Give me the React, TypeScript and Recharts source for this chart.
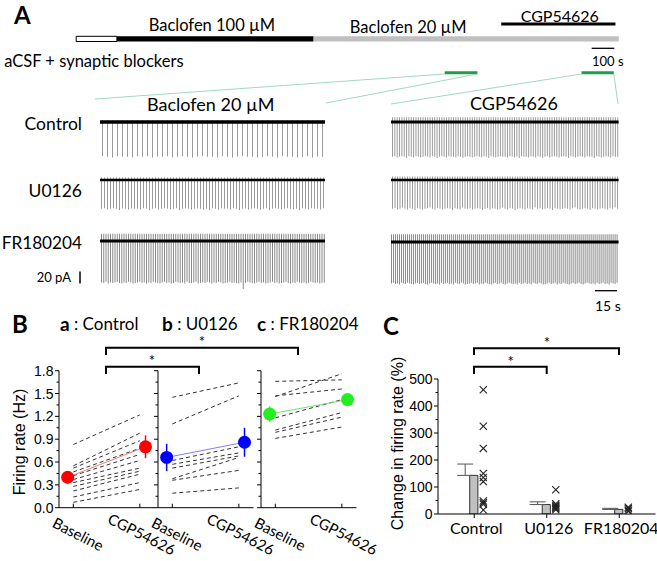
import React from 'react';
import {
  ComposedChart, BarChart, Bar, Line, Scatter, XAxis, YAxis,
  ReferenceArea, ReferenceLine, ErrorBar,
} from 'recharts';

const NUM_FONT = '"Liberation Sans", Arial, sans-serif';
const TXT_FONT = 'Lato, "Open Sans", sans-serif';

// ---------- Panel A: protocol timeline (seconds) ----------
const protocolStarts = [0, 180, 1050];
const protocolEnds = [180, 1050, 2400];
const protocolFills = ['#ffffff', '#000000', '#c0c0c0'];
const cgpPeriod = [1880, 2385];
const recordWindowStarts = [1630, 2235];
const recordWindowEnds = [1775, 2378];
const timeScaleBar = [2280, 2380];
const TOTAL_S = 2400;

// ---------- Panel A: spike amplitudes (pA, downward) ----------
const ctrlBacAmp = [57, 58, 59, 57, 58, 58, 59, 57, 58, 57, 59, 58, 58, 57, 59, 58, 57, 58, 59, 58, 57, 58, 58, 59, 57, 58, 59, 58, 57, 58, 58, 59, 58, 57, 58, 59, 57, 58, 58, 59, 58, 57, 59, 58, 58];
const uBacAmp = [48, 47, 49, 48, 47, 48, 50, 47, 48, 49, 47, 48, 48, 49, 47, 48, 50, 48, 47, 49, 48, 47, 48, 49, 48, 47, 50, 48, 47, 48, 49, 48, 47, 48, 49, 48, 50, 47, 48, 49, 47, 48, 48, 49, 47, 48, 50, 48, 47, 49, 48, 47, 48, 49, 48, 47, 50, 48, 47, 48, 49, 48, 47, 48, 49, 48, 50, 47, 48, 49, 47, 48, 48, 49, 47];
const frBacAmp = [69, 70, 68, 71, 69, 70, 69, 68, 70, 71, 69, 70, 68, 69, 71, 70, 69, 68, 70, 69, 71, 69, 70, 68, 69, 70, 71, 69, 68, 70, 69, 71, 70, 68, 69, 70, 69, 71, 68, 70, 70, 69, 68, 71, 70, 69, 70, 68, 69, 71, 69, 70, 68, 69, 71, 70, 69, 68, 70, 69, 70, 71, 69, 80, 70, 68, 69, 70, 71, 69, 68, 70, 69, 71, 70, 69, 68, 70, 69, 71, 70, 69, 68, 70, 71, 69, 70, 68, 69, 70, 69, 71, 70, 68, 69, 70, 69, 71, 70, 69];
const cgpCtrlAmp = [58, 57, 59, 58, 57, 58, 60, 57, 58, 59, 57, 58, 59, 58, 57, 58, 59, 57, 58, 60, 58, 57, 58, 59, 57, 58, 58, 59, 57, 58, 60, 58, 57, 58, 59, 58, 57, 58, 59, 57, 58, 60, 57, 58, 59, 58, 57, 58, 58, 59, 57, 58, 59, 58, 60, 57, 58, 58, 59, 57, 58, 59, 57, 58, 60, 58, 57, 59, 58, 57, 58, 59, 58, 57, 58, 60, 57, 58, 59, 58, 57, 58, 59, 57, 58, 58, 60, 57, 58, 59, 58, 57, 58, 59, 57, 58, 58];
const cgpUAmp = [48, 47, 49, 48, 46, 48, 49, 47, 48, 50, 47, 48, 49, 48, 47, 46, 48, 49, 47, 48, 49, 48, 47, 48, 50, 47, 48, 49, 46, 48, 48, 47, 49, 48, 47, 48, 50, 48, 47, 49, 47, 48, 49, 48, 46, 48, 49, 47, 48, 50, 48, 47, 48, 49, 47, 48, 49, 46, 48, 47, 49, 48, 47, 48, 50, 47, 48, 49, 48, 47, 48, 49, 47, 46, 48, 49, 48, 47, 48, 50, 47, 48, 49, 48, 47, 48, 49, 47, 48, 46, 48];
const cgpFRAmp = [69, 68, 70, 69, 71, 68, 69, 70, 68, 69, 70, 71, 69, 68, 70, 69, 68, 70, 71, 69, 68, 69, 70, 69, 71, 68, 70, 69, 68, 70, 69, 71, 68, 69, 70, 68, 69, 71, 70, 69, 68, 70, 69, 68, 71, 69, 70, 68, 69, 70, 71, 69, 68, 70, 69, 68, 70, 71, 69, 68, 69, 70, 69, 71, 68, 70, 69, 68, 70, 69, 71, 68, 69, 70, 68, 69, 71, 70, 69, 68, 70, 69, 68, 71, 69, 70, 68, 69, 70, 71, 69, 68, 70, 69, 68, 70, 71, 69, 68, 69, 70, 69, 71, 68, 70, 69, 68, 70, 69, 71, 68, 69, 70, 68];
const traceUpDeflection = [3, 4, 12, 8, 6, 13];

// ---------- Panel B: firing rate (Hz) ----------
const bCategories = ['Baseline', 'CGP54626'];
const bControlBase = [0.83, 0.55, 0.52, 0.47, 0.42, 0.37, 0.33, 0.28, 0.22, 0.14, 0.07];
const bControlCgp = [1.22, 0.98, 0.88, 0.78, 0.70, 0.62, 0.52, 0.48, 0.44, 0.33, 0.24];
const bU0126Base = [1.45, 1.10, 0.62, 0.57, 0.52, 0.38, 0.36, 0.19];
const bU0126Cgp = [1.64, 1.47, 0.80, 0.72, 0.68, 0.66, 0.49, 0.26];
const bFRBase = [1.66, 1.46, 1.47, 1.18, 1.02, 0.99, 0.91];
const bFRCgp = [1.68, 1.76, 1.56, 1.42, 1.25, 1.19, 1.06];
const bMeanControl = [0.40, 0.80];
const bErrControl = [0.08, 0.15];
const bMeanU0126 = [0.66, 0.86];
const bErrU0126 = [0.18, 0.19];
const bMeanFR = [1.23, 1.42];
const bErrFR = [0.10, 0.06];
const bYTicks = [0, 0.15, 0.3, 0.45, 0.6, 0.75, 0.9, 1.05, 1.2, 1.35, 1.5, 1.65, 1.8];

// ---------- Panel C: change in firing rate (%) ----------
const cCategories = ['Control', 'U0126', 'FR180204'];
const cMeans = [143, 35, 17];
const cErrors = [42, 10, 4];
const cPointsControl = [460, 325, 243, 150, 135, 120, 48, 42, 36, 15];
const cPointsU0126 = [90, 38, 32, 28, 24, 20, 16];
const cPointsFR = [25, 20, 14, 10];
const cYTicks = [0, 50, 100, 150, 200, 250, 300, 350, 400, 450, 500];

// ---------- layout ----------
const TOP_LEFT = 76.2;
const TOP_PLOT_W = 542.6;
const secToPx = (t: number) => TOP_LEFT + (t * TOP_PLOT_W) / TOTAL_S;

function Timeline() {
  return (
    <div style={{ position: 'absolute', left: 0, top: 0 }}>
      <ComposedChart
        width={657}
        height={110}
        data={[{ t: 0 }, { t: TOTAL_S }]}
        margin={{ top: 0, right: 657 - TOP_LEFT - TOP_PLOT_W, bottom: 0, left: TOP_LEFT }}
      >
        <XAxis dataKey="t" type="number" domain={[0, TOTAL_S]} hide allowDataOverflow />
        <YAxis type="number" domain={[0, 110]} reversed hide allowDataOverflow />
        {protocolStarts.map((s, k) => (
          <ReferenceArea
            key={k}
            x1={s}
            x2={protocolEnds[k]}
            y1={36.3}
            y2={41.5}
            fill={protocolFills[k]}
            fillOpacity={1}
            stroke={k === 0 ? '#000' : 'none'}
            strokeWidth={1}
            ifOverflow="visible"
          />
        ))}
        <ReferenceLine
          segment={[{ x: cgpPeriod[0], y: 24 }, { x: cgpPeriod[1], y: 24 }]}
          stroke="#000"
          strokeWidth={3}
          ifOverflow="visible"
        />
        {recordWindowStarts.map((s, k) => (
          <ReferenceLine
            key={k}
            segment={[{ x: s, y: 72.7 }, { x: recordWindowEnds[k], y: 72.7 }]}
            stroke="#1f9e4a"
            strokeWidth={3}
            ifOverflow="visible"
          />
        ))}
        <ReferenceLine
          segment={[{ x: timeScaleBar[0], y: 48.3 }, { x: timeScaleBar[1], y: 48.3 }]}
          stroke="#000"
          strokeWidth={1.3}
          ifOverflow="visible"
        />
      </ComposedChart>
    </div>
  );
}

function Trace({ left, top, width, amps, up, lw, color }: any) {
  const rows = amps.map((a: number, i: number) => ({ i, v: [-a, up] }));
  return (
    <div style={{ position: 'absolute', left, top }}>
      <BarChart
        width={width}
        height={60}
        data={rows}
        margin={{ top: 0, right: 0, bottom: 0, left: 0 }}
        barCategoryGap={0}
        barGap={0}
      >
        <XAxis dataKey="i" hide />
        <YAxis type="number" domain={[-80, 20]} hide allowDataOverflow />
        <Bar dataKey="v" fill={color} barSize={1} isAnimationActive={false} />
        <ReferenceLine y={0} stroke="#000" strokeWidth={lw} />
      </BarChart>
    </div>
  );
}

const BYTick = (p: any) => {
  const { x, y, payload, showLabel } = p;
  const v = payload.value;
  const major = Math.abs(v / 0.3 - Math.round(v / 0.3)) < 1e-6;
  return (
    <g>
      <line x1={x} x2={x - (major ? 4 : 2.5)} y1={y} y2={y} stroke="#000" strokeWidth={1} />
      {major && showLabel && (
        <text x={x - 5.5} y={y} textAnchor="end" dominantBaseline="central" fontFamily={NUM_FONT} fontSize={14} fill="#000">
          {v.toFixed(1)}
        </text>
      )}
    </g>
  );
};

const BXTick = (p: any) => {
  const { x, y, payload } = p;
  const label = bCategories[payload.value];
  const cx = x + (payload.value === 0 ? 5 : 2);
  const cy = y + 26;
  return (
    <g>
      <line x1={x} x2={x} y1={y} y2={y - 4} stroke="#000" strokeWidth={1} />
      <g transform={`translate(${cx},${cy})`}>
        <g transform="rotate(27)">
          <text
            x={0}
            y={0}
            textAnchor="middle"
            dominantBaseline="central"
            fontFamily={TXT_FONT}
            fontSize={15}
            fill="#000"
          >
            {label}
          </text>
        </g>
      </g>
    </g>
  );
};

const B_PLOT_TOP = 370.7;
const B_PLOT_H = 137;
const B_PLOT_W = 95.5;
const B_CHART_TOP = 360;

function BPanel({ left, base, cgp, mean, err, color, lineColor, showY }: any) {
  const mt = B_PLOT_TOP - B_CHART_TOP;
  return (
    <div style={{ position: 'absolute', left: left - 45, top: B_CHART_TOP }}>
      <ComposedChart
        width={45 + B_PLOT_W + 45}
        height={mt + B_PLOT_H + 52}
        margin={{ top: mt, right: 45, bottom: 0, left: 5 }}
      >
        <XAxis
          dataKey="x"
          type="number"
          domain={[-0.215, 1.22]}
          ticks={[0, 1]}
          allowDataOverflow
          tickLine={false}
          tickSize={0}
          tickMargin={0}
          height={52}
          interval={0}
          axisLine={{ stroke: '#000' }}
          tick={BXTick}
        />
        <YAxis
          type="number"
          domain={[0, 1.8]}
          ticks={bYTicks}
          allowDataOverflow
          width={40}
          interval={0}
          tickLine={false}
          tickSize={0}
          tickMargin={0}
          axisLine={{ stroke: '#000' }}
          tick={(tp: any) => <BYTick {...tp} showLabel={showY} />}
        />
        {base.map((b: number, k: number) => (
          <Line
            key={k}
            data={[{ x: 0, y: b }, { x: 1, y: cgp[k] }]}
            dataKey="y"
            stroke="#333"
            strokeWidth={1}
            strokeDasharray="4 3"
            dot={false}
            activeDot={false}
            isAnimationActive={false}
          />
        ))}
        <Line
          data={[
            { x: -0.085, y: mean[0], e: err[0] },
            { x: 1.085, y: mean[1], e: err[1] },
          ]}
          dataKey="y"
          stroke={lineColor}
          strokeWidth={1}
          dot={{ r: 6.5, fill: color, stroke: color, strokeWidth: 0 }}
          activeDot={false}
          isAnimationActive={false}
        >
          <ErrorBar dataKey="e" width={0} stroke={color} strokeWidth={1.5} direction="y" />
        </Line>
      </ComposedChart>
    </div>
  );
}

const CYTick = (p: any) => {
  const { x, y, payload } = p;
  const v = payload.value;
  const major = v % 100 === 0;
  return (
    <g>
      <line x1={x} x2={x - (major ? 4 : 2.5)} y1={y} y2={y} stroke="#000" strokeWidth={1} />
      {major && (
        <text x={x - 5.5} y={y} textAnchor="end" dominantBaseline="central" fontFamily={NUM_FONT} fontSize={14} fill="#000">
          {v}
        </text>
      )}
    </g>
  );
};

const CXTick = (p: any) => {
  const { x, y, payload } = p;
  return (
    <g>
      <line x1={x} x2={x} y1={y} y2={y + 4} stroke="#000" strokeWidth={1} />
      <text x={x + 2} y={y + 13} textAnchor="middle" dominantBaseline="central" fontFamily={TXT_FONT} fontSize={16} fill="#000">
        {cCategories[payload.value]}
      </text>
    </g>
  );
};

const CrossShape = (p: any) => {
  const { cx, cy } = p;
  const s = 3.6;
  return (
    <g stroke="#222" strokeWidth={1.1}>
      <line x1={cx - s} y1={cy - s} x2={cx + s} y2={cy + s} />
      <line x1={cx - s} y1={cy + s} x2={cx + s} y2={cy - s} />
    </g>
  );
};

const EmptyShape = () => <g />;

const C_PLOT_LEFT = 437.5;
const C_PLOT_TOP = 379.3;
const C_PLOT_H = 135;
const C_PLOT_W = 217.5;

function CPanel() {
  const barData = cMeans.map((m, i) => ({ x: i, y: m }));
  const errData = cMeans.map((m, i) => ({ x: i - 0.125, y: m, e: [0, cErrors[i]] }));
  const pointSets = [cPointsControl, cPointsU0126, cPointsFR];
  return (
    <div style={{ position: 'absolute', left: C_PLOT_LEFT - 45, top: C_PLOT_TOP - 10 }}>
      <ComposedChart
        width={45 + C_PLOT_W + 2}
        height={10 + C_PLOT_H + 34}
        data={barData}
        margin={{ top: 10, right: 2, bottom: 0, left: 5 }}
      >
        <XAxis
          dataKey="x"
          type="number"
          domain={[-0.5, 2.5]}
          ticks={[0, 1, 2]}
          allowDataOverflow
          tickLine={false}
          tickSize={0}
          tickMargin={0}
          height={34}
          interval={0}
          axisLine={{ stroke: '#000' }}
          tick={CXTick}
        />
        <YAxis
          dataKey="y"
          type="number"
          domain={[0, 500]}
          ticks={cYTicks}
          allowDataOverflow
          width={40}
          interval={0}
          tickLine={false}
          tickSize={0}
          tickMargin={0}
          axisLine={{ stroke: '#000' }}
          tick={CYTick}
        />
        <Bar dataKey="y" barSize={37} fill="#c0c0c0" stroke="#333" strokeWidth={1} isAnimationActive={false} />
        <Scatter data={errData} dataKey="y" shape={EmptyShape} isAnimationActive={false}>
          <ErrorBar dataKey="e" direction="y" width={8} stroke="#555" strokeWidth={1} />
        </Scatter>
        {pointSets.map((pts, i) => (
          <Scatter
            key={i}
            data={pts.map((v) => ({ x: i + 0.125, y: v }))}
            dataKey="y"
            shape={CrossShape}
            isAnimationActive={false}
          />
        ))}
      </ComposedChart>
    </div>
  );
}

const txt = (extra: any) => ({ fontFamily: TXT_FONT, fill: '#000', dominantBaseline: 'central', ...extra });

function Overlay() {
  const w1a = secToPx(recordWindowStarts[0]);
  const w1b = secToPx(recordWindowEnds[0]);
  const w2a = secToPx(recordWindowStarts[1]);
  const w2b = secToPx(recordWindowEnds[1]);
  const teal = '#9fd9c0';
  return (
    <svg width={657} height={561} style={{ position: 'absolute', left: 0, top: 0, pointerEvents: 'none' }}>
      {/* panel letters */}
      <text x={14} y={14} {...txt({ fontSize: 24, fontWeight: 700 })}>A</text>
      <text x={12} y={323} {...txt({ fontSize: 24, fontWeight: 700 })}>B</text>
      <text x={383} y={325} {...txt({ fontSize: 24, fontWeight: 700 })}>C</text>

      {/* timeline labels */}
      <text x={148.7} y={25} {...txt({ fontSize: 16.5 })}>Baclofen 100 µM</text>
      <text x={349.8} y={27} {...txt({ fontSize: 16.5 })}>Baclofen 20 µM</text>
      <text x={520.7} y={15} {...txt({ fontSize: 16 })}>CGP54626</text>
      <text x={592} y={61} {...txt({ fontSize: 13 })}>100 s</text>
      <text x={4.2} y={61} {...txt({ fontSize: 16.5 })}>aCSF + synaptic blockers</text>

      {/* connectors */}
      <line x1={w1a} y1={74} x2={95} y2={99} stroke={teal} strokeWidth={1} />
      <line x1={w1b} y1={74} x2={326} y2={103} stroke={teal} strokeWidth={1} />
      <line x1={w2a} y1={74} x2={391} y2={104} stroke={teal} strokeWidth={1} />
      <line x1={w2b} y1={74} x2={618} y2={104} stroke={teal} strokeWidth={1} />

      {/* trace labels */}
      <text x={147} y={104} {...txt({ fontSize: 18 })}>Baclofen 20 µM</text>
      <text x={470} y={103} {...txt({ fontSize: 18 })}>CGP54626</text>
      <text x={82} y={123} textAnchor="end" {...txt({ fontSize: 17.5 })}>Control</text>
      <text x={82} y={190} textAnchor="end" {...txt({ fontSize: 17.5 })}>U0126</text>
      <text x={82} y={242} textAnchor="end" {...txt({ fontSize: 17.2 })}>FR180204</text>
      <text x={71} y={277} textAnchor="end" {...txt({ fontSize: 13 })}>20 pA</text>
      <line x1={80} y1={271.5} x2={80} y2={283.5} stroke="#000" strokeWidth={1.5} />
      <line x1={595} y1={290.7} x2={617} y2={290.7} stroke="#000" strokeWidth={1.3} />
      <text x={595} y={305} {...txt({ fontSize: 14 })}>15 s</text>

      {/* panel B titles */}
      <text x={60} y={323} {...txt({ fontSize: 17 })}>
        <tspan fontWeight={700} fontSize={19}>a</tspan> : Control
      </text>
      <text x={162} y={323} {...txt({ fontSize: 17 })}>
        <tspan fontWeight={700} fontSize={19}>b</tspan> : U0126
      </text>
      <text x={257} y={323} {...txt({ fontSize: 17 })}>
        <tspan fontWeight={700} fontSize={19}>c</tspan> : FR180204
      </text>

      {/* panel B brackets */}
      <path d="M106,355 V347.7 H298 V355" fill="none" stroke="#000" strokeWidth={2} />
      <path d="M106,374 V366.7 H199 V374" fill="none" stroke="#000" strokeWidth={2} />
      <text x={202} y={341} textAnchor="middle" {...txt({ fontSize: 15 })}>*</text>
      <text x={152} y={360} textAnchor="middle" {...txt({ fontSize: 15 })}>*</text>

      {/* panel C brackets */}
      <path d="M474,355 V348.3 H619 V355" fill="none" stroke="#000" strokeWidth={2} />
      <path d="M474,374 V366.7 H546.7 V374" fill="none" stroke="#000" strokeWidth={2} />
      <text x={547} y={342} textAnchor="middle" {...txt({ fontSize: 15 })}>*</text>
      <text x={510.7} y={361} textAnchor="middle" {...txt({ fontSize: 15 })}>*</text>

      {/* axis titles */}
      <text
        transform="translate(19,442) rotate(-90)"
        textAnchor="middle"
        dominantBaseline="central"
        fontFamily={NUM_FONT}
        fontSize={16}
        fill="#000"
      >
        Firing rate (Hz)
      </text>
      <text
        transform="translate(397.5,443.5) rotate(-90)"
        textAnchor="middle"
        dominantBaseline="central"
        fontFamily={NUM_FONT}
        fontSize={16}
        fill="#000"
      >
        Change in firing rate (%)
      </text>
    </svg>
  );
}

const traceLayout = [
  { left: 100, top: 110, width: 225, amps: ctrlBacAmp, lw: 3.5, color: '#9a9a9a' },
  { left: 100, top: 168, width: 225, amps: uBacAmp, lw: 2.5, color: '#9a9a9a' },
  { left: 100, top: 229, width: 225, amps: frBacAmp, lw: 3, color: '#8a8a8a' },
  { left: 390.7, top: 110.3, width: 227.6, amps: cgpCtrlAmp, lw: 3, color: '#9a9a9a' },
  { left: 390.7, top: 168, width: 227.6, amps: cgpUAmp, lw: 2.5, color: '#9a9a9a' },
  { left: 390.7, top: 229.7, width: 227.6, amps: cgpFRAmp, lw: 3, color: '#8a8a8a' },
];

export default function App() {
  return (
    <div style={{ position: 'absolute', left: 0, top: 0, width: 657, height: 561, background: '#fff', overflow: 'hidden' }}>
      <style>{'.recharts-surface{overflow:visible}'}</style>
      <Timeline />
      {traceLayout.map((t, k) => (
        <Trace key={k} {...t} up={traceUpDeflection[k]} />
      ))}
      <BPanel left={58.5} base={bControlBase} cgp={bControlCgp} mean={bMeanControl} err={bErrControl} color="#ff0000" lineColor="#f08080" showY />
      <BPanel left={158} base={bU0126Base} cgp={bU0126Cgp} mean={bMeanU0126} err={bErrU0126} color="#0000ff" lineColor="#8080f0" showY={false} />
      <BPanel left={260.7} base={bFRBase} cgp={bFRCgp} mean={bMeanFR} err={bErrFR} color="#22ee22" lineColor="#70e070" showY={false} />
      <CPanel />
      <Overlay />
    </div>
  );
}
